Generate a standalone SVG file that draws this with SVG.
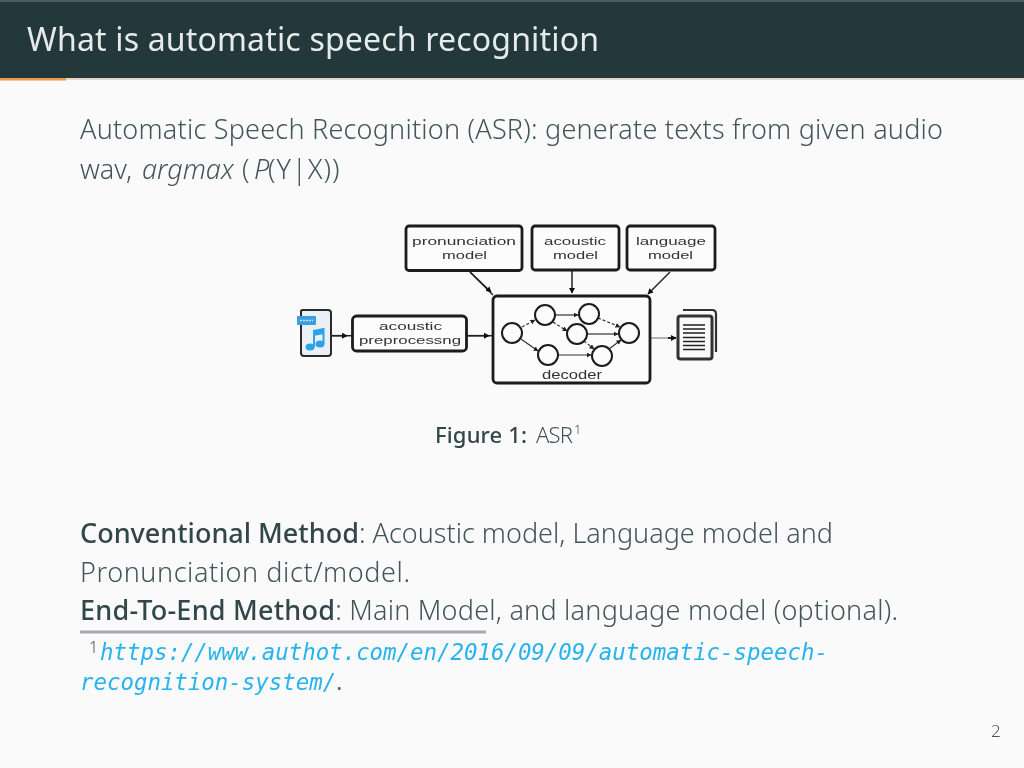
<svg xmlns="http://www.w3.org/2000/svg" width="1024" height="768" viewBox="0 0 1024 768">
<style>
text{font-family:"Noto Sans","Open Sans","DejaVu Sans",sans-serif;fill:#42555a;font-weight:300}
.b{font-size:27px}
.s{font-weight:500;fill:#33464a}
.l{font-family:"DejaVu Sans Mono","Liberation Mono",monospace;font-style:italic;font-size:22.4px;fill:#25b3ee;font-weight:400}
.box{fill:#fcfcfc;stroke:#1a1a1a;stroke-width:2.8}
.lab{font-family:"Liberation Sans",sans-serif;font-size:11.5px;fill:#333;font-weight:400}
.st{fill:#fcfcfc;stroke:#1a1a1a;stroke-width:2}
.c{fill:none;stroke:#222;stroke-width:1.500}
.t{fill:none;stroke:#333;stroke-width:1.200}
.d{fill:none;stroke:#333;stroke-width:1.200;stroke-dasharray:3 2}
</style>
<defs>
<filter id="soft" x="0" y="0" width="1" height="1"><feGaussianBlur stdDeviation="0.35"/></filter>
<filter id="softer" x="-5%" y="-5%" width="110%" height="110%"><feGaussianBlur stdDeviation="0.55"/></filter>
<marker id="a" markerWidth="8" markerHeight="8" refX="5" refY="3" orient="auto" markerUnits="userSpaceOnUse"><path d="M0 0L5.500 3L0 6z" fill="#111"/></marker>
<marker id="as" markerWidth="7" markerHeight="7" refX="4.500" refY="2.500" orient="auto" markerUnits="userSpaceOnUse"><path d="M0 0L5 2.500L0 5z" fill="#222"/></marker>
</defs>
<rect width="1024" height="768" fill="#fafafa"/>
<g filter="url(#soft)">
<g id="header">
<rect width="1024" height="78" fill="#23373b"/>
<rect width="1024" height="2" fill="#4d5d60"/>
<rect y="78" width="1024" height="2" fill="#e3d6c8"/>
<rect y="78" width="66" height="2.500" fill="#eb9a4b"/>
<text x="27" y="51" font-size="32" textLength="572" style="fill:#e6eaea;font-weight:400">What is automatic speech recognition</text>
</g>
<g id="intro">
<text class="b" x="80" y="139" textLength="863">Automatic Speech Recognition (ASR): generate texts from given audio</text>
<text class="b" x="80" y="179">wav,<tspan x="142" font-style="italic">argmax</tspan><tspan x="242">(</tspan><tspan x="254" font-style="italic">P</tspan><tspan x="268" letter-spacing="1">(Y|X))</tspan></text>
</g>
<g id="caption">
<text x="435" y="443" font-size="22" class="s" textLength="92">Figure 1:</text>
<text x="536" y="443" font-size="22" textLength="37">ASR</text>
<text x="574" y="434" font-size="13">1</text>
</g>
<g id="methods">
<text class="b" x="80" y="543" textLength="753"><tspan class="s">Conventional Method</tspan>: Acoustic model, Language model and</text>
<text class="b" x="80" y="582" textLength="330">Pronunciation dict/model.</text>
<text class="b" x="80" y="620" textLength="818"><tspan class="s">End-To-End Method</tspan>: Main Model, and language model (optional).</text>
</g>
<g id="footnote">
<rect x="80" y="630.500" width="406" height="3" fill="#a3abad"/>
<text x="89" y="653" font-size="16">1</text>
<text class="l" x="100" y="660">https://www.authot.com/en/2016/09/09/automatic-speech-</text>
<text class="l" x="80" y="690">recognition-system/<tspan style="font-family:'Noto Sans';font-style:normal;fill:#4f6064">.</tspan></text>
</g>
<text x="991" y="737" font-size="17" id="page">2</text>
</g>
<g filter="url(#softer)">
<g id="connectors">
<path class="c" d="M470 272L493 295"/>
<path class="c" marker-end="url(#a)" d="M470 272L491 292"/>
<path class="c" marker-end="url(#a)" d="M572 270V293"/>
<path class="c" marker-end="url(#a)" d="M670 272L648 294"/>
<path class="c" d="M331 335.700H352"/>
<path class="c" marker-end="url(#a)" d="M331 335.700H347"/>
<path class="c" d="M467 335.700H493"/>
<path class="c" marker-end="url(#a)" d="M467 335.700H489"/>
<path fill="none" stroke="#999" stroke-width="1.500" d="M651 338H670"/>
<path fill="none" stroke="#222" stroke-width="2" marker-end="url(#a)" d="M668 338H676"/>
</g>
<g id="decoder">
<rect class="box" x="493" y="296" width="157" height="87" rx="4"/>
<text class="lab" x="542" y="379" textLength="60" lengthAdjust="spacingAndGlyphs" style="font-size:13px">decoder</text>
<path class="d" marker-end="url(#as)" d="M522 327L535 320"/>
<path class="t" marker-end="url(#as)" d="M521 339L538 351"/>
<path class="t" marker-end="url(#as)" d="M555 315H578"/>
<path class="d" marker-end="url(#as)" d="M553 322L567 331"/>
<path class="d" marker-end="url(#as)" d="M598 318L620 327"/>
<path class="t" marker-end="url(#as)" d="M587 334H618"/>
<path class="d" marker-end="url(#as)" d="M584 341L594 349"/>
<path class="t" marker-end="url(#as)" d="M558 355H591"/>
<path class="t" marker-end="url(#as)" d="M609 349L621 340"/>
<circle class="st" cx="512" cy="333" r="10"/>
<circle class="st" cx="545" cy="315" r="10"/>
<circle class="st" cx="589" cy="314" r="10"/>
<circle class="st" cx="577" cy="334" r="10"/>
<circle class="st" cx="629" cy="333" r="10"/>
<circle class="st" cx="548" cy="355" r="10"/>
<circle class="st" cx="602" cy="356" r="10"/>
</g>
<g id="pronunciation">
<rect class="box" x="406" y="226" width="116" height="44.500" rx="3"/>
<text class="lab" x="412" y="245" textLength="104" lengthAdjust="spacingAndGlyphs">pronunciation</text>
<text class="lab" x="442" y="258.500" textLength="45" lengthAdjust="spacingAndGlyphs">model</text>
</g>
<g id="acoustic">
<rect class="box" x="532" y="226" width="87" height="44" rx="3"/>
<text class="lab" x="544" y="245" textLength="62" lengthAdjust="spacingAndGlyphs">acoustic</text>
<text class="lab" x="553" y="258.500" textLength="45" lengthAdjust="spacingAndGlyphs">model</text>
</g>
<g id="language">
<rect class="box" x="627" y="226" width="88" height="44" rx="3"/>
<text class="lab" x="636" y="245" textLength="70" lengthAdjust="spacingAndGlyphs">language</text>
<text class="lab" x="648" y="258.500" textLength="45" lengthAdjust="spacingAndGlyphs">model</text>
</g>
<g id="preprocessing">
<rect class="box" x="352.500" y="316" width="114" height="35" rx="4"/>
<text class="lab" x="379" y="330" textLength="63" lengthAdjust="spacingAndGlyphs">acoustic</text>
<text class="lab" x="359" y="343.500" textLength="102" lengthAdjust="spacingAndGlyphs">preprocessng</text>
</g>
<g id="audio">
<path d="M302 310H328Q331 310 331 313V353Q331 356 328 356H304Q301 356 301 353V311z" fill="#eaf0f5" stroke="#2a2a2a" stroke-width="2"/>
<rect x="297" y="316" width="19" height="9" rx="1" fill="#3a9fdc"/>
<path d="M300 320.500H313" stroke="#cfe6f6" stroke-width="1.500" stroke-dasharray="2 1"/>
<path d="M313 330L324 328V334L313 336z" fill="#2fa2e6"/>
<path d="M314 330V347M323.500 328V344" fill="none" stroke="#2fa2e6" stroke-width="2"/>
<ellipse cx="310" cy="347" rx="4.500" ry="3.500" fill="#2fa2e6"/>
<ellipse cx="320" cy="344" rx="4.500" ry="3.500" fill="#2fa2e6"/>
</g>
<g id="document">
<path d="M683 310H712Q716 310 716 314V352" fill="none" stroke="#333" stroke-width="2.200"/>
<rect x="678" y="316" width="34" height="43" rx="2.500" fill="#fafafa" stroke="#333" stroke-width="3"/>
<path d="M683 325H705M683 329H705M683 333H705M683 337.500H705M683 341.500H705M683 345.500H705M683 349.500H705" stroke="#222" stroke-width="1.400"/>
</g>
</g>
</svg>
